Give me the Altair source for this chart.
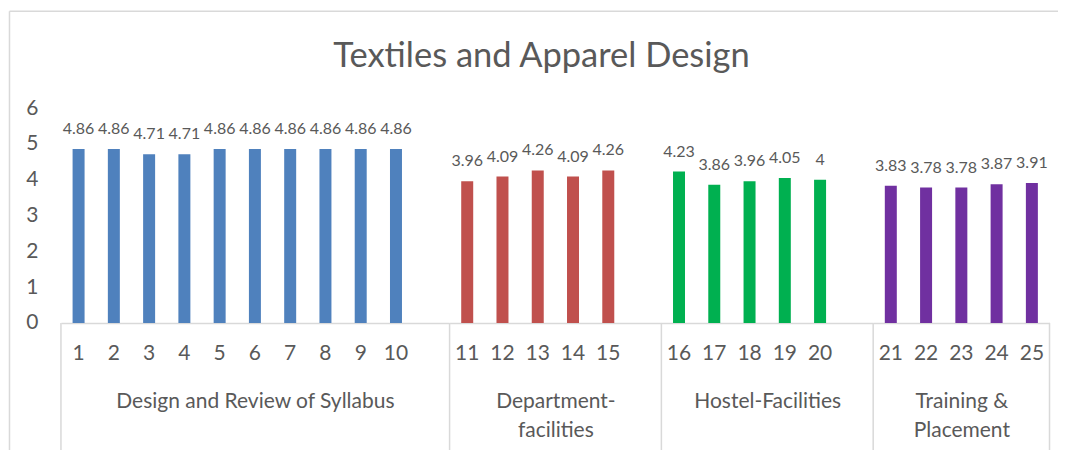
import altair as alt
import pandas as pd

items = ["1", "2", "3", "4", "5", "6", "7", "8", "9", "10",
         "11", "12", "13", "14", "15",
         "16", "17", "18", "19", "20",
         "21", "22", "23", "24", "25"]
scores = [4.86, 4.86, 4.71, 4.71, 4.86, 4.86, 4.86, 4.86, 4.86, 4.86,
          3.96, 4.09, 4.26, 4.09, 4.26,
          4.23, 3.86, 3.96, 4.05, 4,
          3.83, 3.78, 3.78, 3.87, 3.91]
groups = ["Design and Review of Syllabus", "Department-facilities",
          "Hostel-Facilities", "Training & Placement"]
group_titles = [["Design and Review of Syllabus"], ["Department-", "facilities"],
                ["Hostel-Facilities"], ["Training &", "Placement"]]
group_sizes = [10, 5, 5, 5]
group_gap = [True, True, True, False]
colors = ["#4F81BD", "#C0504D", "#00B050", "#7030A0"]
chart_title = "Textiles and Apparel Design"

STEP = 35.3
H = 215
TXT = "#595959"
GRID = "#D9D9D9"
BORDER = "#D9D9D9"

grp_col = []
for g, n in zip(groups, group_sizes):
    grp_col += [g] * n
df = pd.DataFrame({"item": items, "score": scores, "group": grp_col})
df["label"] = [f"{v:g}" for v in scores]

one = pd.DataFrame({"k": [0]})
title_df = pd.DataFrame({"t": [chart_title]})

panels = []
for i, g in enumerate(groups):
    d = df[df["group"] == g]
    domain = list(d["item"]) + ([""] if group_gap[i] else [])
    W = len(domain) * STEP
    xenc = alt.X(
        "item:N",
        sort=domain,
        scale=alt.Scale(domain=domain, paddingInner=0.66, paddingOuter=0.33),
        axis=alt.Axis(title=group_titles[i] if len(group_titles[i]) > 1 else group_titles[i][0],
                      labelAngle=0, ticks=False, grid=False,
                      domainColor=GRID, domainWidth=1.5,
                      labelFontSize=21, labelColor=TXT, labelPadding=20,
                      titleFontSize=21, titleFontWeight="normal", titleColor=TXT,
                      titlePadding=27, titleLineHeight=29),
    )
    if i == 0:
        yaxis = alt.Axis(title=None, values=[0, 1, 2, 3, 4, 5, 6], grid=False, domain=False,
                         ticks=False, labelFontSize=21, labelColor=TXT, labelPadding=23,
                         labelOverlap=False)
    else:
        yaxis = None
    yenc = alt.Y("score:Q", scale=alt.Scale(domain=[0, 6]), axis=yaxis)
    base = alt.Chart(d)
    bars = base.mark_bar(color=colors[i]).encode(x=xenc, y=yenc)
    labels = base.mark_text(fontSize=16, color=TXT, baseline="alphabetic", dy=-15).encode(
        x=xenc, y=yenc, text="label:N")
    sep = alt.Chart(one).mark_rule(color=GRID, strokeWidth=1.5).encode(
        x=alt.value(0), y=alt.value(H), y2=alt.value(H + 140))
    layers = [bars, labels, sep]
    if i == 0:
        top_border = alt.Chart(one).mark_rule(color=BORDER, strokeWidth=1.5).encode(
            x=alt.value(-51.5), x2=alt.value(998), y=alt.value(-97))
        left_border = alt.Chart(one).mark_rule(color=BORDER, strokeWidth=1.5).encode(
            x=alt.value(-51.5), y=alt.value(-97), y2=alt.value(H + 140))
        title = alt.Chart(title_df).mark_text(
            fontSize=34.5, color=TXT, align="center", baseline="alphabetic").encode(
            x=alt.value(481), y=alt.value(-41), text="t:N")
        layers += [top_border, left_border, title]
    if i == len(groups) - 1:
        sep2 = alt.Chart(one).mark_rule(color=GRID, strokeWidth=1.5).encode(
            x=alt.value(W), y=alt.value(H), y2=alt.value(H + 140))
        layers.append(sep2)
    panels.append(alt.layer(*layers).properties(width=W, height=H))

chart = alt.hconcat(*panels, spacing=0, bounds="flush").properties(
    padding={"left": 0, "top": 2, "right": 0, "bottom": 0},
).configure(font="Lato").configure_view(stroke=None)

chart.save("out.html", embed_options={"renderer": "svg", "actions": False})
